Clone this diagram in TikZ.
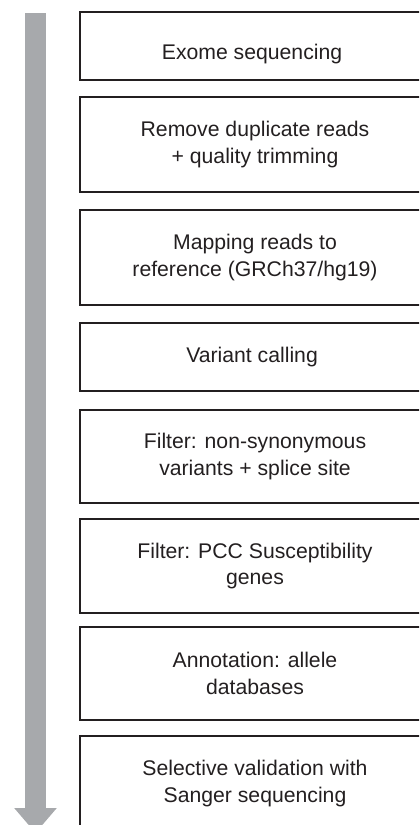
\documentclass[tikz,border=0pt]{standalone}
\usepackage{fontspec}
\setmainfont{Liberation Sans}
\usepackage{tikz}
\usetikzlibrary{arrows.meta}
\definecolor{InkDark}{HTML}{231F20}
\definecolor{ArrowGray}{HTML}{A7A9AC}
\tikzstyle{every node}=[font=\fontsize{10.6}{13.2}\selectfont]
\tikzset{StepStyle/.style = {
			shape          = rectangle,
			draw           = InkDark,
			line width     = 0.75pt,
			text           = InkDark,
			align          = center,
			minimum width  = 175pt,
			inner sep      = 0pt,
			outer sep      = 0pt},
		FlowArrowStyle/.style = {
			draw           = ArrowGray,
			line width     = 10.5pt,
			-{Triangle[width=20.5pt,length=12.5pt]}}
		}

\begin{document}
\begin{tikzpicture}[x=0.5pt,y=-0.5pt]
							\useasboundingbox (0,0) rectangle (419,825);
							\clip (0,0) rectangle (419,825);

							\coordinate (ArrowTop) at (35.5,13);
							\coordinate (ArrowTip) at (35.5,833);
							\draw[FlowArrowStyle] (ArrowTop) -- (ArrowTip);

							\draw (255,46)    node[StepStyle, minimum height=34pt]   (S1) { \raisebox{-4pt}[\height][\depth]{Exome sequencing} };
							\draw (255,144.5) node[StepStyle, minimum height=47.5pt] (S2) { Remove duplicate reads\\+ quality trimming };
							\draw (255,257.5) node[StepStyle, minimum height=47.5pt] (S3) { Mapping reads to\\reference (GRCh37/hg19) };
							\draw (255,357)   node[StepStyle, minimum height=34pt]   (S4) { Variant calling };
							\draw (255,456.5) node[StepStyle, minimum height=46.5pt] (S5) { Filter: non-synonymous\\variants + splice site };
							\draw (255,566)   node[StepStyle, minimum height=47pt]   (S6) { Filter: PCC Susceptibility\\genes };
							\draw (255,673.5) node[StepStyle, minimum height=46.5pt] (S7) { Annotation: allele\\databases };
							\draw (255,783.5) node[StepStyle, minimum height=47.5pt] (S8) { Selective validation with\\Sanger sequencing };

					\end{tikzpicture}
\end{document}
